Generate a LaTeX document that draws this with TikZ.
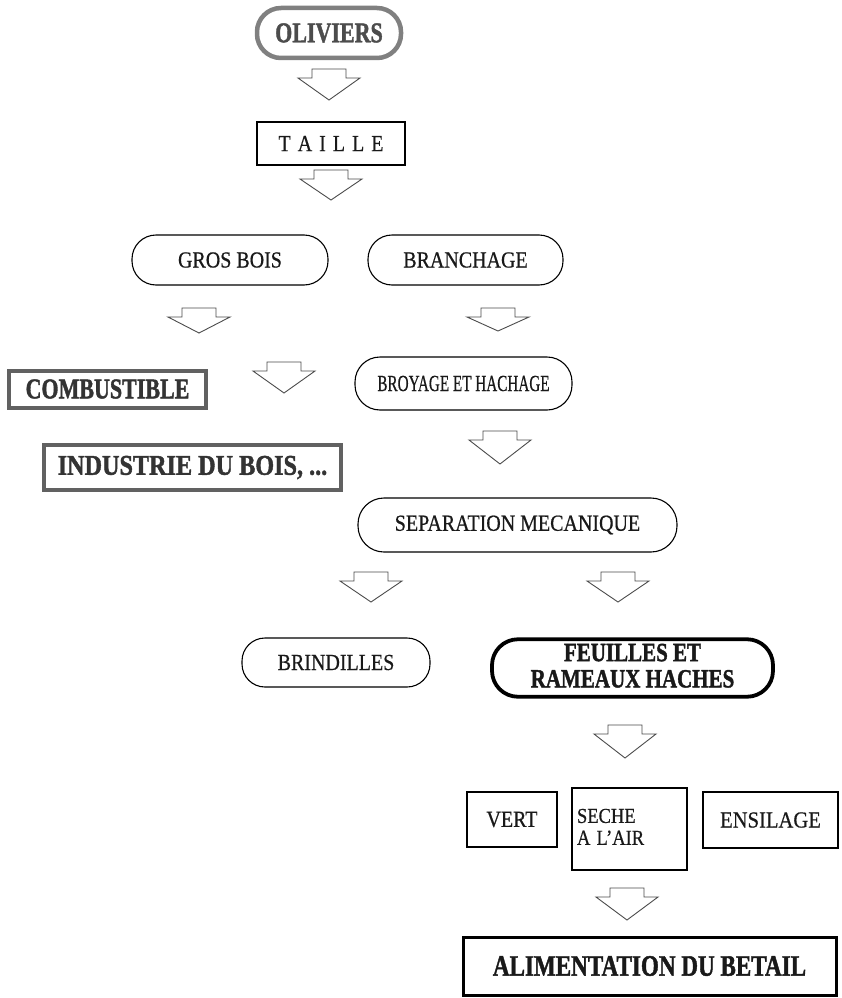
\documentclass[tikz,border=0pt]{standalone}
\usepackage{fontspec}
\setmainfont{Liberation Serif}[UprightFeatures={FakeBold=0.6}, BoldFeatures={FakeBold=1.6}]
\usepackage{graphicx}
% stretch a label (the lettering is tall and narrow): [x-scale][y-scale]
\newcommand\lab[3]{\scalebox{#1}[#2]{#3}}

\begin{document}
\begin{tikzpicture}[x=1pt,y=-1pt,
  base/.style={draw, inner sep=0pt, align=center, text=black!90},
  regfont/.style={font=\fontsize{20}{24}\selectfont},
  boldfont/.style={font=\fontsize{22}{26}\bfseries\selectfont},
  pill/.style={base, regfont, line width=1.1pt},
  plainbox/.style={base, regfont, line width=1.1pt},
  greypill/.style={base, boldfont, draw=black!50, line width=4.5pt, text=black!70},
  greybox/.style={base, boldfont, draw=black!62, line width=4pt, text=black!80},
  heavypill/.style={base, font=\fontsize{21}{25}\bfseries\selectfont, line width=3.8pt},
  heavybox/.style={base, boldfont, line width=3pt},
  blockarrow/.style={draw=black!70, line width=0.9pt, line join=miter, fill=white},
  pics/dnarrow/.style={code={
    \draw[blockarrow] (-17,0) -- (17,0) -- (17,9) -- (31,9) -- (0,#1)
      -- (-31,9) -- (-17,9) -- cycle;}}
]
\useasboundingbox (0,0) rectangle (842,998);
\fill[white] (0,0) rectangle (842,998);

% main chain
\node[greypill, minimum width=144pt, minimum height=50pt, rounded corners=24pt]
  (oliviers) at (329,33) {\lab{1}{1.3}{OLIVIERS}};
\node[plainbox, minimum width=148pt, minimum height=43pt]
  (taille) at (331,143.5) {\lab{1}{1.15}{T\kern7pt A\kern7pt I\kern7pt L\kern7pt L\kern7pt E}};

\node[pill, minimum width=196pt, minimum height=50pt, rounded corners=24pt]
  (gros) at (230,260) {\lab{1}{1.15}{GROS BOIS}};
\node[pill, minimum width=195pt, minimum height=50pt, rounded corners=24pt]
  (branchage) at (465.5,260) {\lab{1}{1.15}{BRANCHAGE}};

\node[greybox, minimum width=197pt, minimum height=37pt]
  (combustible) at (107.5,389) {\lab{1}{1.3}{COMBUSTIBLE}};
\node[pill, minimum width=217pt, minimum height=53pt, rounded corners=25pt]
  (broyage) at (463.5,383.5) {\lab{0.76}{1.15}{BROYAGE ET HACHAGE}};
\node[greybox, minimum width=297pt, minimum height=45pt]
  (industrie) at (192.5,467.5) {\lab{1.1}{1.3}{INDUSTRIE DU BOIS, ...}};

\node[pill, minimum width=319pt, minimum height=54pt, rounded corners=26pt]
  (separation) at (517.5,525) {\lab{1}{1.15}{SEPARATION MECANIQUE}};

\node[pill, minimum width=188pt, minimum height=49pt, rounded corners=23pt]
  (brindilles) at (336,662.5) {\lab{1}{1.15}{BRINDILLES}};
\node[heavypill, minimum width=281pt, minimum height=56pt, rounded corners=26pt]
  (feuilles) at (632.5,668) {\lab{1}{1.25}{\begin{tabular}{@{}c@{}}FEUILLES ET\\[-4pt] RAMEAUX HACHES\end{tabular}}};

% ways of feeding the leaves
\node[plainbox, minimum width=90pt, minimum height=55pt]
  (vert) at (512,819.5) {\lab{1}{1.15}{VERT}};
\node[plainbox, minimum width=115pt, minimum height=82pt, inner sep=5pt,
  text width=105pt, align=left, font=\fontsize{18.5}{21}\selectfont]
  (seche) at (629.5,829) {\lab{1}{1.15}{\begin{tabular}{@{}l@{}}SECHE\\[-2pt] A L'AIR\end{tabular}}\\[14pt]};
\node[plainbox, minimum width=135pt, minimum height=56pt]
  (ensilage) at (770.5,820) {\lab{1.03}{1.15}{ENSILAGE}};

\node[heavybox, minimum width=373pt, minimum height=58pt]
  (alimentation) at (649.5,966) {\lab{1.05}{1.35}{ALIMENTATION DU BETAIL}};

% block arrows between the stages
\pic at (329,69)  {dnarrow=31};
\pic at (331,170) {dnarrow=30};
\pic at (199,308) {dnarrow=25};
\pic at (498,308) {dnarrow=23};
\pic at (284,362) {dnarrow=31};
\pic at (500,431) {dnarrow=33};
\pic at (371,572) {dnarrow=30};
\pic at (618,572) {dnarrow=30};
\pic at (625,725) {dnarrow=33};
\pic at (627,888) {dnarrow=32};
\end{tikzpicture}
\end{document}
